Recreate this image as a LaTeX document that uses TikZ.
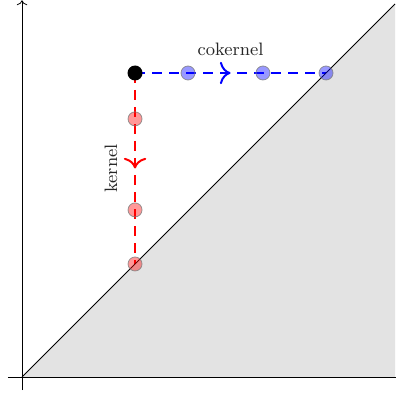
\documentclass[tikz,border=0pt]{standalone}
\usetikzlibrary{arrows.meta, positioning, calc, decorations.markings, backgrounds}
\tikzset{
    axis/.style={->, >=To},
    diagline/.style={-},
    below/.style={fill=gray!22},
    gendot/.style={circle, fill=black, minimum size=7.5pt, inner sep=0pt},
    cokdot/.style={circle, draw=gray, fill=blue, fill opacity=0.4, draw opacity=0.8,
                   minimum size=7pt, inner sep=0pt},
    kerdot/.style={circle, draw=gray, fill=red, fill opacity=0.4, draw opacity=0.8,
                   minimum size=7pt, inner sep=0pt},
    midarrow/.style={decoration={markings,
                     mark=at position 0.5 with {\arrow{Computer Modern Rightarrow[scale=1.4]}}},
                     postaction={decorate}},
    cokpath/.style={line width=1pt, dash pattern=on 5pt off 3.5pt, blue, midarrow},
    kerpath/.style={line width=1pt, dash pattern=on 5pt off 3.5pt, red, midarrow},
    lbl/.style={font=\small, text=black!85},
}
\begin{document}
\begin{tikzpicture}[x=18.65pt, y=18.65pt]
    \useasboundingbox (-0.59,-0.536) rectangle (10,10.107);
    % region below the diagonal
    \fill[below] (0,0) -- (10,10) -- (10,0) -- cycle;
    \coordinate (o) at (0,0);
    \coordinate (xend) at (10.2,0);
    \coordinate (yend) at (0,10.1);
    \draw[axis] (-0.38,0) -- (xend);
    \draw[axis] (0,-0.35) -- (yend);
    \draw[diagline] (o) -- (10,10);

    \node[gendot] (g) at (3.03,8.15) {};
    \node[cokdot] (c1) at (4.45,8.15) {};
    \node[cokdot] (c2) at (6.46,8.15) {};
    \node[cokdot] (c3) at (8.15,8.15) {};
    \node[kerdot] (k1) at (3.03,6.92) {};
    \node[kerdot] (k2) at (3.03,4.48) {};
    \node[kerdot] (k3) at (3.03,3.03) {};

    \begin{pgfonlayer}{background}
        \draw[cokpath] (g.center) -- node[lbl, above=5pt] (coklabel) {cokernel} (c3.center);
        \draw[kerpath] (g.center) -- node[lbl, left=5pt, rotate=90, anchor=south] (kerlabel) {kernel} (k3.center);
    \end{pgfonlayer}
\end{tikzpicture}
\end{document}
